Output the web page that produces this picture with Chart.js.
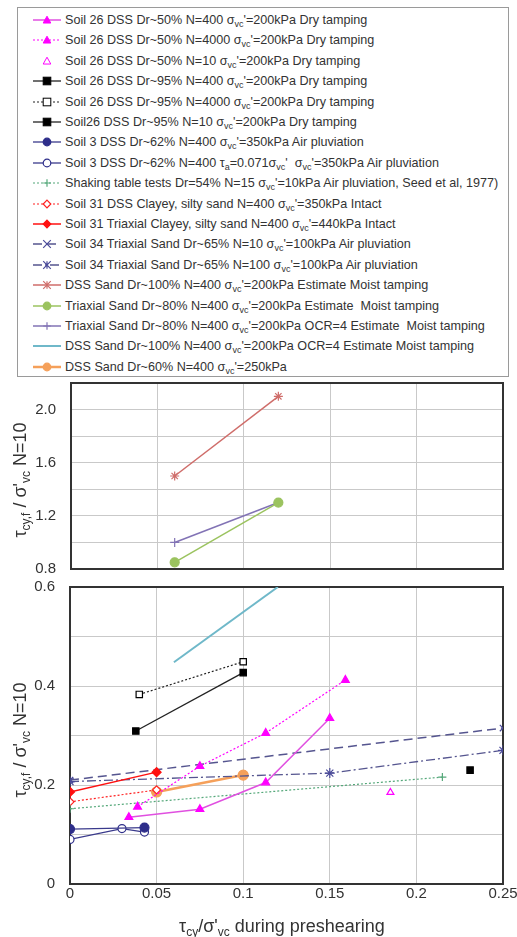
<!DOCTYPE html>
<html>
<head>
<meta charset="utf-8">
<script src="https://cdn.jsdelivr.net/npm/chart.js@4.4.0/dist/chart.umd.min.js"></script>
<style>
  body { margin: 0; width: 517px; height: 937px; overflow: hidden; background: #fff; position: relative;
         font-family: "Liberation Sans", Arial, sans-serif; color: #333; }
  #legend { position: absolute; left: 17px; top: 7px; width: 490px; height: 368px; border: 1px solid #9a9a9a; }
  .row { position: absolute; left: 0; height: 20px; line-height: 20px; font-size: 12.6px; color: #333; white-space: nowrap; }
  .row svg { position: absolute; left: 15px; top: 3px; }
  .row span { position: absolute; left: 47px; }
  sub { font-size: 9px; vertical-align: -3px; line-height: 0; }
  .wrap { position: absolute; left: 0; }
  .ytitle { position: absolute; font-size: 18px; white-space: nowrap; color: #333;
            transform: translate(-50%, -50%) rotate(-90deg); }
  .ytitle sub, .xtitle sub { font-size: 12px; vertical-align: -4px; }
  .xtitle { position: absolute; font-size: 18px; white-space: nowrap; color: #333; transform: translate(-50%, -50%); }
</style>
</head>
<body>
<div id="legend"></div>
<div class="wrap" style="top:370px"><canvas id="topChart" width="530" height="215"></canvas></div>
<div class="wrap" style="top:575px"><canvas id="bottomChart" width="530" height="362"></canvas></div>
<div class="ytitle" style="left:20px;top:480px">τ<sub>cy,f</sub> / σ'<sub>vc</sub> N=10</div>
<div class="ytitle" style="left:20px;top:740px">τ<sub>cy,f</sub> / σ'<sub>vc</sub> N=10</div>
<div class="xtitle" style="left:282px;top:926px">τ<sub>cy</sub>/σ'<sub>vc</sub> during preshearing</div>

<script>
// tick labels
const xTickLabels = ['0', '0.05', '0.1', '0.15', '0.2', '0.25'];
const yTickLabelsTop = ['0.8', '1.2', '1.6', '2.0'];
const yTickLabelsBottom = ['0', '0.2', '0.4', '0.6'];

// legend labels, in legend order
const seriesLabels = [
  "Soil 26 DSS Dr~50% N=400 σ<sub>vc</sub>'=200kPa Dry tamping",
  "Soil 26 DSS Dr~50% N=4000 σ<sub>vc</sub>'=200kPa Dry tamping",
  "Soil 26 DSS Dr~50% N=10 σ<sub>vc</sub>'=200kPa Dry tamping",
  "Soil 26 DSS Dr~95% N=400 σ<sub>vc</sub>'=200kPa Dry tamping",
  "Soil 26 DSS Dr~95% N=4000 σ<sub>vc</sub>'=200kPa Dry tamping",
  "Soil26 DSS Dr~95% N=10 σ<sub>vc</sub>'=200kPa Dry tamping",
  "Soil 3 DSS Dr~62% N=400 σ<sub>vc</sub>'=350kPa Air pluviation",
  "Soil 3 DSS Dr~62% N=400 τ<sub>a</sub>=0.071σ<sub>vc</sub>'&nbsp; σ<sub>vc</sub>'=350kPa Air pluviation",
  "Shaking table tests Dr=54% N=15 σ<sub>vc</sub>'=10kPa Air pluviation, Seed et al, 1977)",
  "Soil 31 DSS Clayey, silty sand N=400 σ<sub>vc</sub>'=350kPa Intact",
  "Soil 31 Triaxial Clayey, silty sand N=400 σ<sub>vc</sub>'=440kPa Intact",
  "Soil 34 Triaxial Sand Dr~65% N=10 σ<sub>vc</sub>'=100kPa Air pluviation",
  "Soil 34 Triaxial Sand Dr~65% N=100 σ<sub>vc</sub>'=100kPa Air pluviation",
  "DSS Sand Dr~100% N=400 σ<sub>vc</sub>'=200kPa Estimate Moist tamping",
  "Triaxial Sand Dr~80% N=400 σ<sub>vc</sub>'=200kPa Estimate&nbsp; Moist tamping",
  "Triaxial Sand Dr~80% N=400 σ<sub>vc</sub>'=200kPa OCR=4 Estimate&nbsp; Moist tamping",
  "DSS Sand Dr~100% N=400 σ<sub>vc</sub>'=200kPa OCR=4 Estimate Moist tamping",
  "DSS Sand Dr~60% N=400 σ<sub>vc</sub>'=250kPa"
];

// series values (x = tau_cy/sigma'vc during preshearing, y = tau_cyf/sigma'vc N=10)
const s26Dr50N400X = [0.034, 0.075, 0.113, 0.15];
const s26Dr50N400Y = [0.135, 0.151, 0.205, 0.335];
const s26Dr50N4000X = [0.039, 0.075, 0.113, 0.159];
const s26Dr50N4000Y = [0.156, 0.238, 0.305, 0.412];
const s26Dr50N10X = [0.185];
const s26Dr50N10Y = [0.185];
const s26Dr95N400X = [0.038, 0.1];
const s26Dr95N400Y = [0.309, 0.427];
const s26Dr95N4000X = [0.04, 0.1];
const s26Dr95N4000Y = [0.383, 0.449];
const s26Dr95N10X = [0.231];
const s26Dr95N10Y = [0.23];
const s3N400X = [0, 0.043];
const s3N400Y = [0.111, 0.114];
const s3TauX = [0, 0.03, 0.043];
const s3TauY = [0.09, 0.112, 0.105];
const shakingX = [0, 0.215];
const shakingY = [0.152, 0.216];
const s31DssX = [0, 0.05];
const s31DssY = [0.166, 0.19];
const s31TriX = [0, 0.05];
const s31TriY = [0.186, 0.226];
const s34N10X = [0, 0.25];
const s34N10Y = [0.21, 0.315];
const s34N100X = [0, 0.15, 0.25];
const s34N100Y = [0.207, 0.224, 0.27];
const dss100X = [0.06, 0.12];
const dss100Y = [1.5, 2.1];
const tri80X = [0.06, 0.12];
const tri80Y = [0.85, 1.3];
const tri80OcrX = [0.06, 0.12];
const tri80OcrY = [1.0, 1.3];
const dss100OcrX = [0.06, 0.12];
const dss100OcrY = [0.448, 0.6];
const dss60X = [0.05, 0.1];
const dss60Y = [0.186, 0.22];

const pts = (xs, ys) => xs.map((x, i) => ({ x: x, y: ys[i] }));

// chart: which panel ('t' top, 'b' bottom), then styles
const series = [
  { chart: 'b', data: pts(s26Dr50N400X, s26Dr50N400Y), color: '#e050e0', mColor: '#ff00ff', dash: [], lw: 1.5, marker: 'triangle', fill: true, r: 4.5 },
  { chart: 'b', data: pts(s26Dr50N4000X, s26Dr50N4000Y), color: '#ff00ff', mColor: '#ff00ff', dash: [2, 2], lw: 1.2, marker: 'triangle', fill: true, r: 4.5 },
  { chart: 'b', data: pts(s26Dr50N10X, s26Dr50N10Y), color: '#ff00ff', mColor: '#ff00ff', dash: [], lw: 0, marker: 'triangle', fill: false, r: 4, noLine: true },
  { chart: 'b', data: pts(s26Dr95N400X, s26Dr95N400Y), color: '#222', mColor: '#000', dash: [], lw: 1.3, marker: 'rect', fill: true, r: 4.5 },
  { chart: 'b', data: pts(s26Dr95N4000X, s26Dr95N4000Y), color: '#222', mColor: '#000', dash: [2, 2], lw: 1.2, marker: 'rect', fill: false, r: 4.5 },
  { chart: 'b', data: pts(s26Dr95N10X, s26Dr95N10Y), color: '#222', mColor: '#000', dash: [], lw: 1.3, marker: 'rect', fill: true, r: 4.5, single: true },
  { chart: 'b', data: pts(s3N400X, s3N400Y), color: '#3a3a8c', mColor: '#2e2e8a', dash: [], lw: 1.3, marker: 'circle', fill: true, r: 4.5 },
  { chart: 'b', data: pts(s3TauX, s3TauY), color: '#3a3a8c', mColor: '#2e2e8a', dash: [], lw: 1.3, marker: 'circle', fill: false, r: 4 },
  { chart: 'b', data: pts(shakingX, shakingY), color: '#55a87a', mColor: '#55a87a', dash: [2, 2], lw: 1.2, marker: 'cross', fill: false, r: 4 },
  { chart: 'b', data: pts(s31DssX, s31DssY), color: '#ff2020', mColor: '#ff2020', dash: [2, 2], lw: 1.2, marker: 'rectRot', fill: false, r: 4 },
  { chart: 'b', data: pts(s31TriX, s31TriY), color: '#ff1010', mColor: '#ff1010', dash: [], lw: 1.5, marker: 'rectRot', fill: true, r: 4.5 },
  { chart: 'b', data: pts(s34N10X, s34N10Y), color: '#55558f', mColor: '#4a4a9a', dash: [9, 5], lw: 1.5, marker: 'crossRot', fill: false, r: 4.5 },
  { chart: 'b', data: pts(s34N100X, s34N100Y), color: '#55558f', mColor: '#4a4a9a', dash: [9, 3, 2, 3], lw: 1.3, marker: 'star', fill: false, r: 5 },
  { chart: 't', data: pts(dss100X, dss100Y), color: '#cf6d6a', mColor: '#cf6d6a', dash: [], lw: 1.5, marker: 'star', fill: false, r: 4.5 },
  { chart: 't', data: pts(tri80X, tri80Y), color: '#9bc35f', mColor: '#9bc35f', dash: [], lw: 1.5, marker: 'circle', fill: true, r: 4.5 },
  { chart: 't', data: pts(tri80OcrX, tri80OcrY), color: '#8273b5', mColor: '#8273b5', dash: [], lw: 1.5, marker: 'cross', fill: false, r: 4.5 },
  { chart: 'b', data: pts(dss100OcrX, dss100OcrY), color: '#6fb8c9', mColor: '#6fb8c9', dash: [], lw: 2, marker: 'line', fill: false, r: 0 },
  { chart: 'b', data: pts(dss60X, dss60Y), color: '#f5a05a', mColor: '#f5a05a', dash: [], lw: 2.5, marker: 'circle', fill: true, r: 5 }
];

// ---- legend (html so the subscripts stay real text) ----
function markerSvg(s) {
  const cx = 14, cy = 7, r = 3.8, c = s.mColor;
  const f = s.fill ? c : '#fff';
  let out = '';
  if (!s.noLine) {
    out += `<line x1="0" y1="${cy}" x2="28" y2="${cy}" stroke="${s.color}" stroke-width="${Math.max(s.lw, 1.2)}" stroke-dasharray="${s.dash.join(' ')}"/>`;
  }
  switch (s.marker) {
    case 'triangle':
      out += `<polygon points="${cx},${cy - r} ${cx + r},${cy + r * 0.8} ${cx - r},${cy + r * 0.8}" fill="${f}" stroke="${c}" stroke-width="1"/>`; break;
    case 'rect':
      out += `<rect x="${cx - r}" y="${cy - r}" width="${2 * r}" height="${2 * r}" fill="${f}" stroke="${c}" stroke-width="1"/>`; break;
    case 'circle':
      out += `<circle cx="${cx}" cy="${cy}" r="${r}" fill="${f}" stroke="${c}" stroke-width="1.2"/>`; break;
    case 'rectRot':
      out += `<polygon points="${cx},${cy - r} ${cx + r},${cy} ${cx},${cy + r} ${cx - r},${cy}" fill="${f}" stroke="${c}" stroke-width="1.2"/>`; break;
    case 'cross':
      out += `<path d="M${cx - r} ${cy}H${cx + r}M${cx} ${cy - r}V${cy + r}" stroke="${c}" stroke-width="1.2"/>`; break;
    case 'crossRot':
      out += `<path d="M${cx - r} ${cy - r}L${cx + r} ${cy + r}M${cx - r} ${cy + r}L${cx + r} ${cy - r}" stroke="${c}" stroke-width="1.2"/>`; break;
    case 'star':
      out += `<path d="M${cx - r} ${cy - r}L${cx + r} ${cy + r}M${cx - r} ${cy + r}L${cx + r} ${cy - r}M${cx} ${cy - r}V${cy + r}" stroke="${c}" stroke-width="1.2"/>`; break;
  }
  return `<svg width="28" height="14">${out}</svg>`;
}

const legendEl = document.getElementById('legend');
series.forEach((s, i) => {
  const row = document.createElement('div');
  row.className = 'row';
  row.style.top = (2 + i * 20.4) + 'px';
  row.innerHTML = markerSvg(s) + '<span>' + seriesLabels[i] + '</span>';
  legendEl.appendChild(row);
});

// ---- charts ----
const frame = {
  id: 'frame',
  beforeDatasetsDraw(chart) {
    const a = chart.chartArea, ctx = chart.ctx;
    ctx.save();
    ctx.strokeStyle = '#333';
    ctx.lineWidth = 2;
    ctx.strokeRect(a.left, a.top, a.right - a.left, a.bottom - a.top);
    ctx.restore();
  }
};

const pickLabel = (list) => (value) => {
  const hit = list.find(l => Math.abs(parseFloat(l) - value) < 1e-6);
  return hit === undefined ? '' : hit;
};

function toDatasets(panel) {
  return series.filter(s => s.chart === panel).map(s => ({
    data: s.data,
    showLine: !s.noLine && !s.single,
    borderColor: s.color,
    borderWidth: s.lw,
    borderDash: s.dash,
    pointStyle: s.marker === 'line' ? false : s.marker,
    pointRadius: s.r,
    pointBorderColor: s.mColor,
    pointBackgroundColor: s.fill ? s.mColor : '#fff',
    pointBorderWidth: 1.2,
    backgroundColor: s.mColor
  }));
}

const tickFont = { family: '"Liberation Sans", Arial, sans-serif', size: 15 };

// plot area in canvas coords is fixed: the scales' own label padding is switched off
function makeChart(id, panel, yMin, yMax, yStep, yLabels, padTop, yWidth, xHeight, showX) {
  return new Chart(document.getElementById(id).getContext('2d'), {
    type: 'scatter',
    data: { datasets: toDatasets(panel) },
    options: {
      responsive: false,
      animation: false,
      events: [],
      layout: { padding: { top: padTop, right: 27, bottom: 0, left: 0 } },
      plugins: { legend: { display: false }, tooltip: { enabled: false } },
      scales: {
        x: {
          type: 'linear', min: 0, max: 0.25,
          afterFit: (sc) => { sc.height = xHeight; sc.paddingLeft = 0; sc.paddingRight = 0; },
          ticks: { stepSize: 0.05, display: showX, color: '#333', font: tickFont, padding: 1, maxRotation: 0,
                   autoSkip: false, callback: pickLabel(xTickLabels) },
          grid: { color: '#c9c9c9', lineWidth: 1, drawTicks: false },
          border: { display: false }
        },
        y: {
          type: 'linear', min: yMin, max: yMax,
          afterFit: (sc) => { sc.width = yWidth; sc.paddingTop = 0; sc.paddingBottom = 0; },
          ticks: { stepSize: yStep, color: '#333', font: tickFont, padding: 15, autoSkip: false,
                   callback: pickLabel(yLabels) },
          grid: { color: '#c9c9c9', lineWidth: 1, drawTicks: false },
          border: { display: false }
        }
      }
    },
    plugins: [frame]
  });
}

makeChart('topChart', 't', 0.8, 2.2, 0.2, yTickLabelsTop, 13, 71, 16, false);
makeChart('bottomChart', 'b', 0, 0.6, 0.1, yTickLabelsBottom, 12, 70, 53, true);
</script>
</body>
</html>
